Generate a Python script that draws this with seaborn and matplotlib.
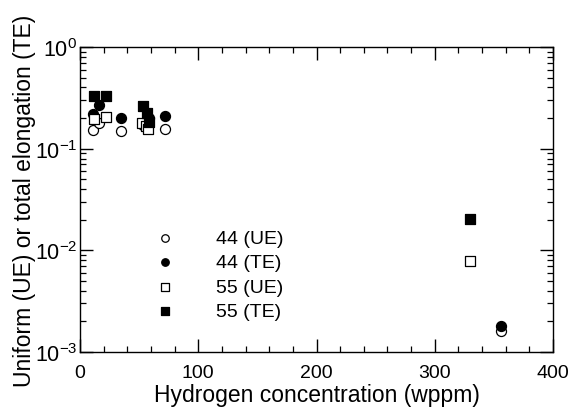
import numpy as np
import pandas as pd
import matplotlib
matplotlib.use("Agg")
import matplotlib.pyplot as plt
import seaborn as sns
from matplotlib.ticker import LogLocator, MultipleLocator, FixedLocator, NullFormatter

# ---- data ----
h_44_ue = [10.7, 15.8, 34.7, 53.0, 71.9, 356.0]
v_44_ue = [0.154, 0.179, 0.148, 0.172, 0.156, 0.00162]

h_44_te = [10.7, 16.3, 34.7, 58.0, 71.9, 356.0]
v_44_te = [0.219, 0.271, 0.200, 0.200, 0.211, 0.00182]

h_55_ue = [12.0, 22.0, 52.5, 55.8, 57.5, 330.0]
v_55_ue = [0.196, 0.205, 0.178, 0.167, 0.156, 0.0078]

h_55_te = [12.0, 22.0, 53.0, 57.0, 58.0, 330.0]
v_55_te = [0.327, 0.327, 0.262, 0.222, 0.185, 0.0204]

labels = ["44 (UE)", "44 (TE)", "55 (UE)", "55 (TE)"]
x_ticks = [0, 100, 200, 300, 400]
x_ticklabels = ["0", "100", "200", "300", "400"]
y_ticks = [1e-3, 1e-2, 1e-1, 1]
y_ticklabels = [r"$\mathregular{10^{-3}}$", r"$\mathregular{10^{-2}}$",
                r"$\mathregular{10^{-1}}$", r"$\mathregular{10^{0}}$"]

sns.set_theme(style="ticks")
plt.rcParams["font.family"] = ["Liberation Sans", "DejaVu Sans"]
plt.rcParams["mathtext.fontset"] = "custom"
plt.rcParams["mathtext.rm"] = "Liberation Sans"
plt.rcParams["mathtext.it"] = "Liberation Sans"
for k in ["text.color", "axes.labelcolor", "xtick.color", "ytick.color", "axes.edgecolor"]:
    plt.rcParams[k] = "black"

fig = plt.figure(figsize=(5.72, 4.10), dpi=100)
ax = fig.add_axes([80/572, 1-353/410, (553-80)/572, (353-48)/410])

series = [
    (h_44_ue, v_44_ue, "o", "white", 52),
    (h_44_te, v_44_te, "o", "black", 52),
    (h_55_ue, v_55_ue, "s", "white", 55),
    (h_55_te, v_55_te, "s", "black", 60),
]
for (hx, vy, mk, fc, s), lab in zip(series, labels):
    df = pd.DataFrame({"H": hx, "E": vy})
    sns.scatterplot(data=df, x="H", y="E", marker=mk, s=s, facecolor=fc,
                    edgecolor="black", linewidth=0.9, ax=ax, label=lab, zorder=3)

ax.set_yscale("log")
ax.set_xlim(0, 400)
ax.set_ylim(1e-3, 1)
ax.xaxis.set_major_locator(FixedLocator(x_ticks))
ax.xaxis.set_minor_locator(MultipleLocator(20))
ax.yaxis.set_major_locator(FixedLocator(y_ticks))
ax.yaxis.set_minor_locator(LogLocator(base=10, subs=np.arange(2, 10)))
ax.yaxis.set_minor_formatter(NullFormatter())
ax.set_yticklabels(y_ticklabels)
ax.set_xticklabels(x_ticklabels)

ax.tick_params(which="both", direction="in", top=True, right=True, colors="black")
ax.tick_params(axis="x", which="major", labelsize=14, pad=9)
ax.tick_params(axis="y", which="major", labelsize=15.5, pad=2)
ax.tick_params(which="major", length=9.5, width=1.0)
ax.tick_params(which="minor", length=4.5, width=0.9)
for sp in ax.spines.values():
    sp.set_color("black")
    sp.set_linewidth(1.0)

ax.set_xlabel("Hydrogen concentration (wppm)", fontsize=16.5, labelpad=1, color="black")
ax.set_ylabel("Uniform (UE) or total elongation (TE)", fontsize=16.5, labelpad=-1, color="black")

fs_leg = 14
leg = ax.legend(loc="upper left", bbox_to_anchor=(156/572, 1-230/410),
                bbox_transform=fig.transFigure, frameon=False, fontsize=fs_leg,
                markerscale=0.75, handlelength=0.9, handletextpad=2.2,
                labelspacing=0.36, borderpad=0.0, borderaxespad=0.0)
for t in leg.get_texts():
    t.set_color("black")

fig.savefig("out.png", dpi=100)
